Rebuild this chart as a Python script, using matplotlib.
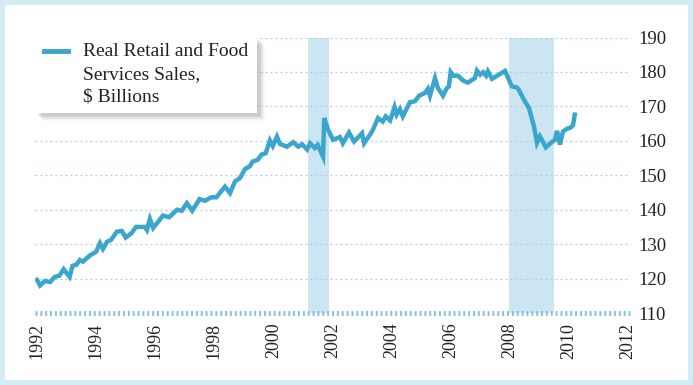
import matplotlib
matplotlib.use("Agg")
import matplotlib.pyplot as plt
from matplotlib.patches import Rectangle

# ---- data ----
years = [1992.0, 1992.1, 1992.27, 1992.44, 1992.6, 1992.75, 1992.9, 1993.1, 1993.2, 1993.33,
         1993.45, 1993.55, 1993.8, 1994.0, 1994.13, 1994.23, 1994.37, 1994.5, 1994.7, 1994.87,
         1995.0, 1995.2, 1995.35, 1995.65, 1995.72, 1995.82, 1995.93, 1996.1, 1996.26, 1996.47,
         1996.74, 1996.9, 1997.07, 1997.25, 1997.5, 1997.68, 1997.9, 1998.07, 1998.36, 1998.53,
         1998.7, 1998.87, 1999.04, 1999.2, 1999.3, 1999.47, 1999.6, 1999.74, 1999.88, 1999.98,
         2000.12, 2000.22, 2000.46, 2000.67, 2000.84, 2000.97, 2001.14, 2001.24, 2001.4, 2001.5,
         2001.68, 2001.72, 2001.85, 2002.02, 2002.25, 2002.35, 2002.56, 2002.73, 2003.0, 2003.07,
         2003.34, 2003.54, 2003.7, 2003.8, 2003.95, 2004.1, 2004.17, 2004.28, 2004.38, 2004.62,
         2004.79, 2004.93, 2005.13, 2005.23, 2005.3, 2005.47, 2005.57, 2005.74, 2005.87, 2005.94,
         2006.0, 2006.1, 2006.25, 2006.42, 2006.58, 2006.82, 2006.89, 2007.0, 2007.1, 2007.2,
         2007.26, 2007.4, 2007.84, 2008.07, 2008.24, 2008.3, 2008.45, 2008.65, 2008.82, 2008.92,
         2009.02, 2009.22, 2009.43, 2009.53, 2009.6, 2009.7, 2009.8, 2009.94, 2010.07, 2010.14,
         2010.2]
sales = [119.6, 118.0, 119.3, 119.0, 120.5, 120.8, 122.7, 120.5, 123.7, 124.0,
         125.4, 124.9, 126.8, 127.8, 130.3, 128.6, 130.7, 131.2, 133.6, 133.8,
         131.9, 133.2, 135.0, 135.0, 134.1, 137.3, 134.7, 136.5, 138.3, 137.8,
         140.0, 139.7, 141.9, 139.7, 143.1, 142.6, 143.6, 143.6, 146.7, 144.8,
         148.2, 149.2, 151.8, 152.6, 154.0, 154.5, 156.0, 156.4, 160.1, 158.5,
         161.2, 159.1, 158.3, 159.6, 158.3, 159.0, 157.5, 159.3, 157.9, 158.8,
         155.4, 166.6, 163.2, 160.3, 161.1, 159.3, 162.4, 159.8, 162.2, 159.3,
         162.7, 166.6, 165.6, 167.1, 165.9, 169.8, 167.6, 169.2, 167.1, 171.2,
         171.5, 173.1, 173.9, 175.1, 173.1, 178.2, 175.3, 173.1, 175.3, 175.8,
         180.0, 178.9, 178.9, 177.5, 176.9, 178.2, 180.4, 179.2, 179.9, 178.9,
         180.2, 178.0, 180.3, 175.8, 175.5, 174.9, 172.4, 169.5, 164.2, 159.4,
         161.3, 158.1, 159.7, 160.3, 162.9, 158.9, 162.7, 163.5, 163.9, 164.5,
         167.6]
recessions = [(2001.17, 2001.88), (2007.97, 2009.5)]
xticks = [1992, 1994, 1996, 1998, 2000, 2002, 2004, 2006, 2008, 2010, 2012]
yticks = [110, 120, 130, 140, 150, 160, 170, 180, 190]
legend_label = "Real Retail and Food\nServices Sales,\n$ Billions"

LINE = "#3aa5cd"
BAND = "#cbe6f2"
GRID = "#a9cfdc"
BORDER = "#d3ebf3"

W, H = 693, 385
fig = plt.figure(figsize=(W / 100, H / 100), dpi=100)
fig.patch.set_facecolor("white")
plt.rcParams["font.family"] = ["Liberation Serif", "DejaVu Serif"]

def fx(px):
    return px / W

def fy(py):
    return 1 - py / H

ax = fig.add_axes([fx(35), fy(313), fx(630) - fx(35), fy(37.5) - fy(313)])
ax.set_xlim(1991.93, 2012.07)
ax.set_ylim(110, 190)
for s in ax.spines.values():
    s.set_visible(False)
ax.set_facecolor("none")

for a, b in recessions:
    ax.axvspan(a, b, ymin=0, ymax=1, color=BAND, lw=0, zorder=1)

for y in yticks[1:]:
    ax.axhline(y, color=GRID, lw=0.9, linestyle=(0, (1.5, 2.5)), zorder=2)
ax.axhline(110, color="#86c2d7", lw=3.5, linestyle=(0, (0.4, 0.6)), zorder=2, clip_on=False)

ax.plot(years, sales, color=LINE, lw=3.2, solid_joinstyle="miter", zorder=4)

ax.yaxis.tick_right()
ax.set_yticks(yticks)
ax.set_yticklabels([str(t) for t in yticks], fontsize=13.5, color="#222222")
ax.set_xticks(xticks)
ax.set_xticklabels([str(t) for t in xticks], rotation=90, fontsize=13, color="#222222",
                   va="top")
ax.tick_params(axis="both", length=0)
ax.tick_params(axis="y", pad=6)
ax.tick_params(axis="x", pad=7)

# legend box with soft shadow
for off, alpha in [(8, 0.03), (7, 0.04), (6, 0.05), (5, 0.06), (4, 0.07), (3, 0.08)]:
    fig.patches.append(Rectangle((fx(35 + off), fy(113 + off)), fx(222), fy(0) - fy(76),
                                 transform=fig.transFigure, facecolor="#555555",
                                 alpha=alpha, edgecolor="none", zorder=5))
fig.patches.append(Rectangle((fx(35), fy(113)), fx(222), fy(0) - fy(76),
                             transform=fig.transFigure, facecolor="white",
                             edgecolor="none", zorder=6))
fig.lines.append(plt.Line2D([fx(44), fx(68)], [fy(51), fy(51)], transform=fig.transFigure,
                            color=LINE, lw=3.5, zorder=7))
fig.text(fx(83), fy(43), legend_label, fontsize=14, color="#222222", va="top", ha="left",
         linespacing=1.45, zorder=7)

# figure border
fig.patches.append(Rectangle((0, 0), 1, 1, transform=fig.transFigure, facecolor="none",
                             edgecolor=BORDER, lw=7, zorder=10))

fig.savefig("out.png", dpi=100)
